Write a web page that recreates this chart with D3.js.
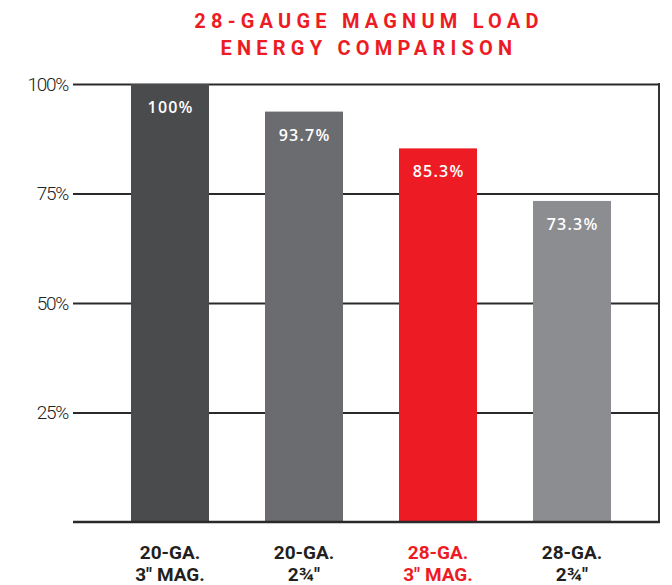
<!DOCTYPE html>
<html>
<head>
<meta charset="utf-8">
<script src="https://cdn.jsdelivr.net/npm/d3@7"></script>
<style>
  body { margin: 0; background: #fff; }
  svg { display: block; }
</style>
</head>
<body>
<div id="chart"></div>
<script>
const titleLines = ["28-GAUGE MAGNUM LOAD", "ENERGY COMPARISON"];
const categories = [["20-GA.", "3\" MAG."], ["20-GA.", "2¾\""], ["28-GA.", "3\" MAG."], ["28-GA.", "2¾\""]];
const values = [100, 93.7, 85.3, 73.3];
const valueLabels = ["100%", "93.7%", "85.3%", "73.3%"];
const yTicks = [25, 50, 75, 100];
const barColors = ["#4a4b4d", "#6b6c70", "#ed1c24", "#8c8d91"];
const labelColors = ["#231f20", "#231f20", "#ed1c24", "#231f20"];

const width = 672, height = 585;
const plotLeft = 73, plotRight = 659, plotTop = 84, plotBottom = 522;

const svg = d3.select("#chart").append("svg")
    .attr("width", width)
    .attr("height", height);

// title
svg.append("g").selectAll("text")
    .data(titleLines)
    .join("text")
    .attr("x", 369)
    .attr("y", (d, i) => 28 + i * 27)
    .attr("text-anchor", "middle")
    .attr("fill", "#ed1c24")
    .attr("font-family", "Roboto, sans-serif")
    .attr("font-weight", 700)
    .attr("font-size", 20)
    .attr("letter-spacing", 5.2)
    .text(d => d);

let x = d3.scaleBand()
    .domain(d3.range(values.length))
    .range([103, 639])
    .paddingInner(0.418)
    .paddingOuter(0.209);

let y = d3.scaleLinear()
    .domain([0, 100])
    .range([plotBottom, plotTop]);

// gridlines + tick labels
let yAxis = svg.append("g")
    .attr("transform", "translate(" + plotLeft + ",0)")
    .call(d3.axisLeft(y).tickValues(yTicks).tickFormat(d => d + "%")
        .tickSize(-(plotRight - plotLeft)).tickPadding(5));
yAxis.select(".domain").remove();
yAxis.selectAll(".tick line").attr("stroke", "#2a2a2a").attr("stroke-width", 1.8);
yAxis.selectAll(".tick text")
    .attr("fill", "#222")
    .attr("font-family", "Roboto, sans-serif")
    .attr("font-weight", 300)
    .attr("font-size", 19)
    .attr("letter-spacing", -1.3)
    .attr("dy", "0.34em");

// right frame line
svg.append("line")
    .attr("x1", plotRight).attr("x2", plotRight)
    .attr("y1", y(100) - 1).attr("y2", y(0) + 1)
    .attr("stroke", "#333").attr("stroke-width", 2);

// bars
svg.append("g").selectAll("rect")
    .data(values)
    .join("rect")
    .attr("x", (d, i) => x(i))
    .attr("width", x.bandwidth())
    .attr("y", d => y(d))
    .attr("height", d => y(0) - y(d))
    .attr("fill", (d, i) => barColors[i]);

// value labels
svg.append("g").selectAll("text")
    .data(values)
    .join("text")
    .attr("x", (d, i) => x(i) + x.bandwidth() / 2 + 0.6)
    .attr("y", d => y(d) + 29)
    .attr("text-anchor", "middle")
    .attr("fill", "#fff")
    .attr("font-family", "'Open Sans', sans-serif")
    .attr("font-weight", 600)
    .attr("font-size", 16)
    .attr("letter-spacing", 1.2)
    .text((d, i) => valueLabels[i]);

// baseline
svg.append("line")
    .attr("x1", plotLeft).attr("x2", plotRight + 1)
    .attr("y1", y(0)).attr("y2", y(0))
    .attr("stroke", "#2a2a2a").attr("stroke-width", 2.5);

// category labels
let cats = svg.append("g").selectAll("text")
    .data(categories)
    .join("text")
    .attr("text-anchor", "middle")
    .attr("fill", (d, i) => labelColors[i])
    .attr("font-family", "Roboto, sans-serif")
    .attr("font-weight", 700)
    .attr("font-size", 19);
cats.selectAll("tspan")
    .data((d, i) => d.map(t => ({ t: t, i: i })))
    .join("tspan")
    .attr("x", d => x(d.i) + x.bandwidth() / 2)
    .attr("y", (d, j) => 559 + j * 22)
    .text(d => d.t);
</script>
</body>
</html>
